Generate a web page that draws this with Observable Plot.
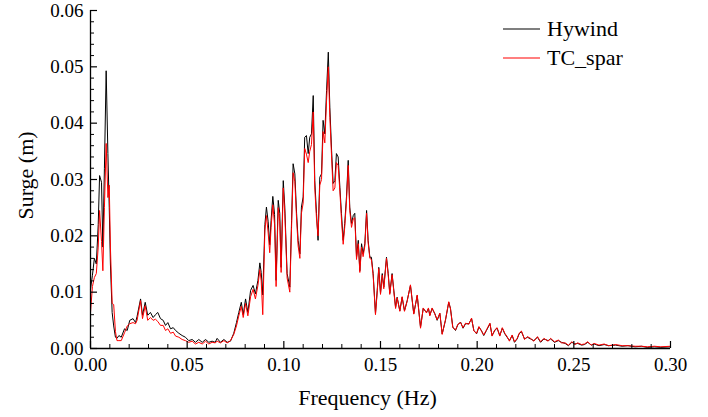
<!DOCTYPE html>
<html>
<head>
<meta charset="utf-8">
<script src="https://cdn.jsdelivr.net/npm/d3@7"></script>
<script src="https://cdn.jsdelivr.net/npm/@observablehq/plot@0.6"></script>
<style>
  html, body { margin: 0; padding: 0; background: #fff; }
  #wrap { position: relative; width: 708px; height: 417px; font-family: "Liberation Serif", "Times New Roman", serif; }
  #legend { position: absolute; left: 503px; top: 14px; font-size: 22px; color: #000; }
  #legend .row { display: flex; align-items: center; height: 29px; }
  #legend svg { margin-right: 7px; }
</style>
</head>
<body>
<div id="wrap">
  <div id="chart"></div>
  <div id="legend"></div>
</div>
<script>
const freq = [
0.0000,0.0010,0.0020,0.0030,0.0040,0.0047,0.0057,0.0064,0.0072,0.0081,0.0090,0.0097,0.0103,0.0112,0.0120,0.0129,0.0137,0.0147,0.0159,0.0176,
0.0190,0.0203,0.0220,0.0233,0.0241,0.0259,0.0269,0.0283,0.0296,0.0310,0.0324,0.0336,0.0348,0.0362,0.0376,0.0388,0.0400,0.0414,0.0428,0.0440,
0.0457,0.0474,0.0491,0.0508,0.0526,0.0543,0.0560,0.0578,0.0595,0.0612,0.0629,0.0645,0.0655,0.0672,0.0690,0.0707,0.0724,0.0741,0.0755,0.0767,
0.0780,0.0790,0.0802,0.0814,0.0828,0.0841,0.0853,0.0866,0.0876,0.0883,0.0891,0.0902,0.0910,0.0919,0.0927,0.0934,0.0943,0.0952,0.0960,0.0971,
0.0979,0.0986,0.0997,0.1005,0.1017,0.1031,0.1040,0.1048,0.1057,0.1066,0.1074,0.1083,0.1091,0.1100,0.1108,0.1117,0.1126,0.1134,0.1143,0.1152,
0.1160,0.1169,0.1177,0.1186,0.1195,0.1203,0.1212,0.1221,0.1230,0.1238,0.1247,0.1255,0.1264,0.1272,0.1281,0.1290,0.1298,0.1307,0.1315,0.1324,
0.1333,0.1341,0.1350,0.1359,0.1367,0.1376,0.1385,0.1393,0.1402,0.1410,0.1419,0.1428,0.1436,0.1445,0.1453,0.1462,0.1474,0.1483,0.1491,0.1500,
0.1509,0.1517,0.1531,0.1540,0.1548,0.1560,0.1569,0.1578,0.1586,0.1600,0.1612,0.1624,0.1638,0.1655,0.1672,0.1690,0.1707,0.1721,0.1738,0.1748,
0.1755,0.1767,0.1781,0.1793,0.1807,0.1819,0.1836,0.1853,0.1862,0.1874,0.1888,0.1900,0.1914,0.1927,0.1940,0.1957,0.1971,0.1983,0.1997,0.2009,
0.2022,0.2034,0.2048,0.2066,0.2077,0.2091,0.2103,0.2117,0.2130,0.2143,0.2155,0.2167,0.2181,0.2193,0.2207,0.2217,0.2229,0.2245,0.2260,0.2276,
0.2293,0.2312,0.2328,0.2345,0.2367,0.2380,0.2400,0.2420,0.2436,0.2455,0.2472,0.2490,0.2505,0.2520,0.2540,0.2555,0.2572,0.2590,0.2605,0.2630,
0.2657,0.2680,0.2716,0.2750,0.2780,0.2817,0.2850,0.2880,0.2917,0.2950,0.3000
];
const hywind = [
0.0105,0.0130,0.0160,0.0150,0.0220,0.0307,0.0295,0.0180,0.0320,0.0493,0.0346,0.0250,0.0150,0.0064,0.0040,0.0020,0.0018,0.0023,0.0020,0.0035,
0.0032,0.0050,0.0053,0.0046,0.0057,0.0088,0.0059,0.0082,0.0059,0.0064,0.0055,0.0060,0.0064,0.0053,0.0050,0.0041,0.0046,0.0035,0.0037,0.0032,
0.0027,0.0023,0.0020,0.0014,0.0016,0.0011,0.0016,0.0011,0.0016,0.0011,0.0013,0.0011,0.0018,0.0011,0.0016,0.0011,0.0013,0.0027,0.0046,0.0064,
0.0082,0.0060,0.0088,0.0064,0.0103,0.0112,0.0097,0.0121,0.0152,0.0135,0.0095,0.0220,0.0251,0.0225,0.0184,0.0227,0.0270,0.0238,0.0121,0.0263,
0.0240,0.0144,0.0298,0.0251,0.0133,0.0109,0.0227,0.0328,0.0310,0.0240,0.0192,0.0168,0.0251,0.0269,0.0375,0.0378,0.0346,0.0375,0.0381,0.0449,
0.0298,0.0240,0.0192,0.0304,0.0310,0.0405,0.0381,0.0458,0.0526,0.0428,0.0352,0.0293,0.0298,0.0346,0.0340,0.0286,0.0240,0.0192,0.0222,0.0269,
0.0334,0.0251,0.0222,0.0236,0.0240,0.0162,0.0192,0.0138,0.0186,0.0168,0.0186,0.0245,0.0192,0.0162,0.0162,0.0133,0.0062,0.0103,0.0144,0.0098,
0.0133,0.0109,0.0162,0.0133,0.0098,0.0133,0.0103,0.0073,0.0091,0.0067,0.0091,0.0067,0.0085,0.0112,0.0062,0.0094,0.0038,0.0071,0.0064,0.0071,
0.0059,0.0071,0.0062,0.0050,0.0062,0.0026,0.0050,0.0082,0.0071,0.0038,0.0032,0.0042,0.0047,0.0036,0.0044,0.0044,0.0053,0.0032,0.0026,0.0038,
0.0032,0.0023,0.0032,0.0044,0.0023,0.0032,0.0036,0.0023,0.0036,0.0026,0.0020,0.0014,0.0023,0.0011,0.0017,0.0026,0.0030,0.0017,0.0020,0.0017,
0.0014,0.0020,0.0011,0.0017,0.0014,0.0017,0.0011,0.0014,0.0011,0.0009,0.0005,0.0011,0.0008,0.0009,0.0006,0.0007,0.0011,0.0006,0.0008,0.0005,
0.0007,0.0005,0.0006,0.0004,0.0005,0.0003,0.0004,0.0002,0.0003,0.0002,0.0003
];
const tcSpar = [
0.0064,0.0110,0.0126,0.0133,0.0180,0.0245,0.0190,0.0138,0.0250,0.0364,0.0268,0.0290,0.0180,0.0080,0.0078,0.0030,0.0014,0.0014,0.0014,0.0028,
0.0040,0.0044,0.0046,0.0044,0.0050,0.0085,0.0053,0.0076,0.0050,0.0055,0.0050,0.0052,0.0048,0.0041,0.0041,0.0032,0.0035,0.0027,0.0029,0.0022,
0.0020,0.0016,0.0014,0.0011,0.0013,0.0008,0.0011,0.0008,0.0013,0.0008,0.0011,0.0010,0.0013,0.0010,0.0014,0.0010,0.0014,0.0025,0.0040,0.0058,
0.0075,0.0055,0.0080,0.0058,0.0092,0.0105,0.0088,0.0112,0.0140,0.0120,0.0060,0.0210,0.0236,0.0205,0.0170,0.0215,0.0255,0.0220,0.0110,0.0250,
0.0225,0.0135,0.0285,0.0240,0.0125,0.0100,0.0215,0.0312,0.0296,0.0230,0.0182,0.0160,0.0240,0.0258,0.0355,0.0345,0.0330,0.0350,0.0362,0.0420,
0.0285,0.0230,0.0200,0.0290,0.0300,0.0385,0.0365,0.0440,0.0500,0.0410,0.0340,0.0280,0.0285,0.0330,0.0325,0.0278,0.0230,0.0185,0.0215,0.0262,
0.0325,0.0245,0.0215,0.0230,0.0232,0.0158,0.0186,0.0135,0.0180,0.0163,0.0182,0.0240,0.0188,0.0160,0.0158,0.0130,0.0060,0.0100,0.0142,0.0096,
0.0130,0.0106,0.0160,0.0130,0.0096,0.0131,0.0101,0.0071,0.0090,0.0066,0.0092,0.0066,0.0084,0.0113,0.0061,0.0095,0.0036,0.0072,0.0063,0.0072,
0.0058,0.0072,0.0061,0.0051,0.0063,0.0025,0.0051,0.0083,0.0070,0.0037,0.0033,0.0043,0.0046,0.0037,0.0045,0.0043,0.0054,0.0031,0.0027,0.0039,
0.0031,0.0024,0.0033,0.0045,0.0022,0.0033,0.0037,0.0022,0.0037,0.0027,0.0021,0.0013,0.0024,0.0012,0.0018,0.0027,0.0031,0.0016,0.0021,0.0018,
0.0013,0.0021,0.0012,0.0018,0.0013,0.0018,0.0012,0.0015,0.0010,0.0010,0.0006,0.0012,0.0007,0.0010,0.0007,0.0008,0.0012,0.0006,0.0009,0.0006,
0.0008,0.0005,0.0007,0.0005,0.0005,0.0004,0.0004,0.0003,0.0004,0.0003,0.0004
];
const seriesNames = ["Hywind", "TC_spar"];
const seriesColors = ["#000000", "#ff0000"];
const yTicks = [0, 0.01, 0.02, 0.03, 0.04, 0.05, 0.06];
const yMinorTicks = [0.002,0.004,0.006,0.008,0.012,0.014,0.016,0.018,0.022,0.024,0.026,0.028,0.032,0.034,0.036,0.038,0.042,0.044,0.046,0.048,0.052,0.054,0.056,0.058];
const xTicks = [0, 0.05, 0.10, 0.15, 0.20, 0.25, 0.30];
const xMinorTicks = [0.01,0.02,0.03,0.04,0.06,0.07,0.08,0.09,0.11,0.12,0.13,0.14,0.16,0.17,0.18,0.19,0.21,0.22,0.23,0.24,0.26,0.27,0.28,0.29];
const xLabel = "Frequency (Hz)";
const yLabel = "Surge (m)";

const rowsH = freq.map((f, i) => ({f, v: hywind[i]}));
const rowsT = freq.map((f, i) => ({f, v: tcSpar[i]}));

const blank = () => "";
const chart = Plot.plot({
  width: 708,
  height: 417,
  marginLeft: 90,
  marginRight: 38,
  marginTop: 10,
  marginBottom: 69,
  style: {fontFamily: "'Liberation Serif', 'Times New Roman', serif", fontSize: "19px", background: "#fff", color: "#000"},
  x: {domain: [0, 0.3], axis: null},
  y: {domain: [0, 0.06], axis: null},
  marks: [
    Plot.line(rowsH, {x: "f", y: "v", stroke: seriesColors[0], strokeWidth: 1}),
    Plot.line(rowsT, {x: "f", y: "v", stroke: seriesColors[1], strokeWidth: 1}),
    Plot.ruleX([0], {stroke: "#000", strokeWidth: 1.3}),
    Plot.ruleY([0], {stroke: "#000", strokeWidth: 1.3}),
    Plot.axisY(yTicks, {tickSize: 7, dx: 7, tickFormat: blank, label: null, strokeWidth: 1.2}),
    Plot.axisY(yMinorTicks, {tickSize: 4, dx: 4, tickFormat: blank, label: null, strokeWidth: 1}),
    Plot.axisY(yTicks, {tickSize: 0, tickPadding: 7, tickFormat: d3.format(".2f"), label: null, fontSize: 19}),
    Plot.axisX(xTicks, {tickSize: 7, dy: -7, tickFormat: blank, label: null, strokeWidth: 1.2}),
    Plot.axisX(xMinorTicks, {tickSize: 4, dy: -4, tickFormat: blank, label: null, strokeWidth: 1}),
    Plot.axisX(xTicks, {tickSize: 0, tickPadding: 9, tickFormat: d3.format(".2f"), label: null, fontSize: 19}),
    Plot.text([yLabel], {frameAnchor: "left", dx: -65, dy: -4, rotate: -90, fontSize: 22, textAnchor: "middle"}),
    Plot.text([xLabel], {frameAnchor: "bottom", dx: -13, dy: 49, fontSize: 22, textAnchor: "middle", lineAnchor: "middle"})
  ]
});
document.getElementById("chart").appendChild(chart);

const legend = document.getElementById("legend");
seriesNames.forEach((name, i) => {
  const row = document.createElement("div");
  row.className = "row";
  row.innerHTML = `<svg width="37" height="4"><line x1="0" y1="2" x2="37" y2="2" stroke="${seriesColors[i]}" stroke-width="1.2"/></svg><span>${name}</span>`;
  legend.appendChild(row);
});
</script>
</body>
</html>
